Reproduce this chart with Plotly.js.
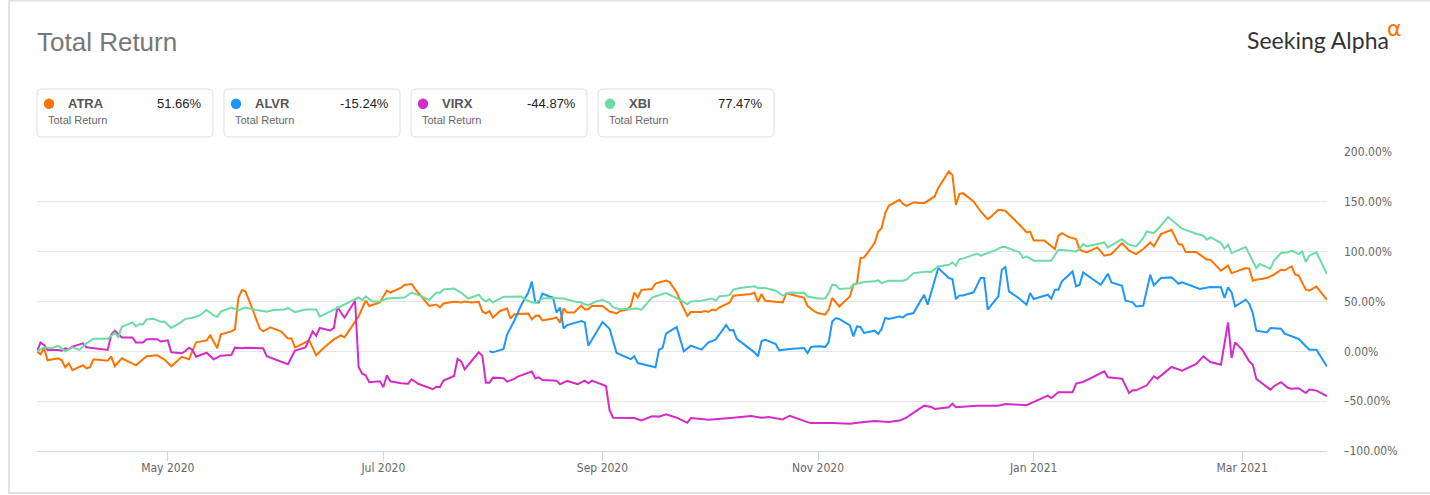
<!DOCTYPE html>
<html>
<head>
<meta charset="utf-8">
<script src="https://cdn.plot.ly/plotly-3.0.1.min.js"></script>
<style>
html,body{margin:0;padding:0;background:#fff;}
#chart{width:1430px;height:495px;}
</style>
</head>
<body>
<div id="chart"></div>
<script>
// ---------------- DATA ----------------
const startDate = '2020-03-25';
const endDate = '2021-03-25';
const tickers = ['ATRA', 'ALVR', 'VIRX', 'XBI'];
const totalReturns = [51.66, -15.24, -44.87, 77.47];
const subLabel = 'Total Return';
const chartTitle = 'Total Return';
const xTickVals = ['2020-05-01', '2020-07-01', '2020-09-01', '2020-11-01', '2021-01-01', '2021-03-01'];
const xTickText = ['May 2020', 'Jul 2020', 'Sep 2020', 'Nov 2020', 'Jan 2021', 'Mar 2021'];
const yTickVals = [-100, -50, 0, 50, 100, 150, 200];

// [days since startDate, total return %]
const atra = [[0,0],[1,-3],[2,3],[3,-9],[6,-7],[7,-9],[8,-16],[9,-12],[10,-19],[13,-14],[14,-17],[15,-16],[16,-8],[20,-9.5],[21,-5],[22,-15],[24,-7],[28,-14],[31,-5],[34,-4],[36,-8],[38,-15],[41,-5.5],[43,-8],[45,9],[48,11],[49,16],[51,3],[52,17],[55,20],[56,22],[57,54],[58,61.5],[59,60],[61,42],[63,23],[64,20],[66,24],[69,20],[71,13],[72,13],[73,4],[74,5.4],[77,11],[79,-4],[81,3],[84,12],[86,16],[87,14],[89,25],[91,35],[93,51],[94,45.5],[97,49],[99,61],[100,59],[103,64],[104,66.6],[106,67.6],[107,62.5],[109,54],[111,45.6],[113,47],[114,44],[115,48],[118,49.7],[120,49],[121,50],[123,49],[125,49.7],[126,40],[127,38],[128,40.5],[129,33.8],[131,40.5],[133,43],[134,32.8],[135,37],[136,37.5],[139,37.9],[140,32],[141,35.5],[142,36],[143,31],[146,33],[147,34],[148,28.7],[149,43],[150,39],[152,39],[154,46],[155,42],[156,42.5],[157,45.6],[160,45.6],[162,40],[164,38],[165,40.5],[167,42],[168,45.6],[169,59],[170,54],[171,61.5],[174,62.5],[175,68],[178,71],[179,69.5],[181,59],[182,50.7],[184,35.5],[185,39.5],[188,39.5],[189,40.5],[190,39.5],[191,42],[192,41],[193,44],[196,49],[197,55.8],[202,57.5],[203,59],[204,49.7],[205,57.5],[206,50.7],[211,49],[212,58],[217,54],[218,45.6],[220,40],[221,38.4],[223,36.8],[224,41.8],[225,53.5],[227,45],[230,55],[231,66.8],[232,68.5],[233,93.6],[234,94],[237,108.6],[238,120],[239,123.7],[240,138.7],[241,146],[244,152],[245,148],[246,146],[248,149.4],[251,148.7],[253,153.7],[254,155.4],[255,163.8],[258,180.5],[259,177],[260,147],[261,158],[262,158.7],[265,150.4],[267,140.4],[269,132.7],[270,135.3],[272,142],[274,141],[278,127],[280,119.3],[281,120],[282,111.3],[285,111.3],[288,102.6],[289,116],[290,118.6],[292,114.6],[294,112.6],[295,102],[297,99.3],[300,104.3],[302,96],[304,97.6],[307,108.6],[309,101],[311,97.6],[313,102.6],[315,109.3],[316,105.3],[318,117.6],[321,122],[323,107.6],[324,107],[325,99.6],[328,99.6],[331,92],[332,92],[334,85.2],[335,81],[337,86],[338,78.5],[342,83.6],[343,83],[344,70.8],[345,71.8],[348,73.5],[350,76.9],[352,81.9],[353,81.3],[355,85.2],[356,76.9],[357,76],[359,61.8],[360,61],[362,65],[365,51.66]];

const alvr = [[128,0],[129,-1],[132,2.4],[133,16.9],[134,23.7],[135,30.4],[137,46.3],[139,59],[140,70],[141,49],[142,49],[143,58],[145,55],[146,54],[147,38.9],[148,44],[149,23],[150,26.4],[154,30.4],[155,29],[156,5.7],[160,29.4],[162,22.6],[164,-1.7],[168,-7.8],[169,-5],[170,-11.8],[175,-15.9],[176,1.7],[177,3.4],[178,17.9],[181,24.3],[183,0],[185,5.7],[188,1.7],[190,9.1],[192,11.8],[195,26.4],[196,21],[197,21.5],[198,12.5],[201,4.4],[203,-1],[204,-5],[205,10.1],[206,11.8],[209,7.4],[210,1],[213,2.4],[217,3.4],[218,-1.7],[219,4.4],[221,5],[223,4.5],[224,9],[225,30],[226,33.4],[227,32.5],[230,26],[231,15],[232,25],[233,24.5],[234,18.4],[237,20.7],[238,17.4],[239,22.7],[240,33.4],[241,32.5],[244,35],[245,34],[246,36.8],[248,38.4],[251,56.8],[252,46.8],[255,83.6],[258,73.5],[259,72.5],[260,52.5],[261,56.1],[262,56],[265,59.2],[267,73.5],[268,73.5],[269,41.8],[272,55.1],[273,81.9],[274,84.6],[275,60.2],[278,52.8],[280,46.8],[281,58.5],[282,52.5],[286,56.8],[287,52.8],[288,61.8],[289,61.8],[290,70.2],[293,80.2],[294,65.2],[295,66.8],[296,79.2],[301,66.8],[303,77.9],[304,69.2],[307,65.8],[308,50.8],[310,49.1],[311,45.1],[313,45.8],[315,76.9],[316,66.2],[318,73.5],[321,74.2],[323,67.8],[324,69.2],[329,62.5],[332,64.5],[335,64.2],[336,53.5],[337,64.2],[338,59.2],[339,45.1],[342,51.8],[343,47.8],[344,38.4],[345,20.7],[348,19],[349,23.4],[352,22.7],[353,17.7],[357,12.4],[360,1.7],[362,1.7],[365,-15.24]];

const virx = [[0,0],[1,8.8],[2,6.5],[3,1.4],[6,1.4],[7,0.7],[8,3],[9,2],[10,4.8],[12,7],[13,8],[14,4],[16,3],[20,1.4],[21,16.7],[22,20.7],[24,14],[27,14],[28,8.8],[30,8.8],[31,12.2],[34,12.2],[35,9.9],[37,11],[38,-1],[41,-2],[42,0.3],[43,3.7],[44,1.4],[45,-5.4],[48,-1.4],[50,-8],[52,-4.4],[55,-3.7],[56,3.7],[58,3],[59,3.7],[64,3],[65,-4.8],[68,-8.8],[70,-11],[71,-12.9],[73,0.7],[75,3],[76,4],[78,20],[79,15.6],[80,23.5],[83,21],[84,23.5],[85,44.5],[87,33.7],[90,50.7],[91,-15.6],[92,-22.4],[93,-24],[94,-31],[97,-30],[98,-36],[99,-24],[100,-30],[103,-32],[105,-32.5],[106,-28],[108,-32.8],[112,-38],[113,-35.5],[114,-36],[115,-29.4],[118,-24.7],[119,-7.4],[120,-10],[121,-18],[125,-1],[126,-4.4],[127,-31.4],[128,-31.4],[129,-26.4],[132,-27],[133,-30.4],[135,-27.7],[136,-25.4],[140,-20.3],[141,-27],[142,-26],[143,-28.7],[147,-29.4],[148,-33],[150,-29.7],[153,-33],[155,-29.4],[156,-32],[157,-29.4],[161,-34.8],[162,-59],[163,-66.6],[169,-67],[171,-69.3],[174,-65.2],[176,-65.5],[178,-63.2],[181,-66.6],[184,-71.7],[185,-67],[190,-68.6],[197,-66.6],[202,-64.9],[205,-66.6],[207,-66],[211,-68.3],[213,-64.6],[218,-71],[219,-72],[225,-72],[230,-72.7],[234,-71],[237,-70],[241,-71],[244,-69.5],[246,-66.5],[248,-61.8],[251,-54.5],[253,-55.8],[254,-57.8],[258,-56.1],[259,-52.5],[260,-56.1],[266,-54.5],[272,-54.5],[274,-52.8],[280,-54],[284,-47.8],[286,-44.4],[287,-46.8],[289,-41.1],[293,-41.1],[294,-32.4],[296,-30.7],[302,-20],[303,-26],[307,-27.4],[309,-41.8],[310,-39.1],[311,-39.1],[314,-34.1],[316,-25],[317,-27.4],[321,-15.7],[324,-19.4],[328,-12.7],[330,-5],[332,-10.7],[335,-13.4],[337,29],[338,-6.7],[339,9],[341,1.7],[343,-10],[344,-13.4],[345,-27.7],[348,-35.8],[349,-38.4],[350,-35],[352,-31],[354,-36.8],[355,-37.5],[357,-37],[359,-41.8],[360,-38.4],[362,-39.4],[365,-44.87]];

const xbi = [[0,0],[2,4],[4,3],[6,5.4],[8,0],[10,4],[12,1.4],[14,8],[16,12.6],[20,12.6],[22,18.4],[23,14.3],[24,24.5],[27,29],[28,25],[29,27.5],[30,27],[31,32],[33,32.6],[35,29.6],[36,30],[38,23.5],[40,27.5],[42,32.6],[44,33.7],[46,36],[48,41.5],[50,36],[51,34.7],[52,39.8],[55,43.9],[57,41],[58,42.8],[59,43.9],[62,41.5],[65,39.8],[67,41.5],[70,42],[71,43.5],[73,39.4],[76,42],[79,42],[80,34.7],[81,36.5],[84,42],[88,49],[91,54],[92,51.3],[93,55],[95,50],[97,50],[99,53],[103,54],[104,54],[106,59],[108,56.4],[111,51.7],[113,59],[114,58.5],[115,62],[118,63],[120,59],[122,53],[125,56.8],[126,52.4],[127,50],[128,52.4],[129,49],[132,54.8],[134,55],[137,55],[138,52.4],[140,49],[141,49],[143,53],[146,53.4],[149,53],[152,50],[154,49],[155,47.3],[156,46.3],[158,49.7],[160,51.7],[162,48.3],[163,44],[165,42.3],[168,42.3],[170,43],[171,41.6],[174,54],[177,57.5],[178,58.5],[181,53.4],[183,49],[184,47.3],[185,50],[188,50.7],[191,53],[192,50.7],[193,55],[196,56.4],[197,62],[199,63.5],[203,65.2],[204,63.5],[206,63.5],[209,60.8],[211,55.8],[213,59],[216,58.5],[217,59],[218,55],[221,53],[223,53],[224,58.5],[225,66.8],[226,66.5],[227,62.5],[230,63.2],[231,66.8],[234,69.5],[237,70.2],[238,71.2],[239,68.5],[241,70.8],[245,70.8],[246,71.8],[248,78.5],[252,80.2],[253,79.5],[255,85.2],[258,86.9],[259,89.2],[260,85.9],[261,92.6],[262,93],[265,97],[266,98],[267,96],[269,98.6],[271,101.3],[273,104.6],[274,104.6],[278,99.3],[279,93.6],[280,95.2],[282,91],[287,91],[289,102],[291,101.5],[294,100.3],[295,103],[296,107.6],[297,105.3],[302,109.3],[303,104.3],[307,112.6],[309,107],[311,105.3],[313,113.6],[314,120.3],[316,118.5],[318,126],[320,134.7],[323,125.3],[324,123],[328,118],[330,116],[331,112],[332,114.6],[335,108.6],[336,103],[337,107],[338,98.6],[342,104.6],[345,83.6],[346,87.6],[349,82.9],[350,91.2],[352,98.6],[354,99.5],[355,101],[357,97.6],[358,100.3],[359,89.6],[360,96],[362,99.3],[365,77.47]];

// ---------------- STYLE ----------------
const seriesData = [atra, alvr, virx, xbi];
const seriesColors = ['#ff7300', '#1f96fa', '#d42bc8', '#6ddba5'];

const W = 1430, H = 495;
const M = {l: 37, r: 103, t: 152, b: 44};
const PW = W - M.l - M.r, PH = H - M.t - M.b;
const X = px => (px - M.l) / PW;          // page px -> paper x
const Y = py => (H - M.b - py) / PH;       // page py -> paper y

const t0 = Date.parse(startDate + 'T00:00:00Z');
const toDate = d => new Date(t0 + d * 86400000).toISOString().slice(0, 10);
const fmtPct = v => (v < 0 ? '\u2013' + Math.abs(v).toFixed(2) : v.toFixed(2)) + '%';

const traces = seriesData.map((s, i) => ({
  type: 'scatter',
  mode: 'lines',
  name: tickers[i],
  x: s.map(p => toDate(p[0])),
  y: s.map(p => p[1]),
  line: {color: seriesColors[i], width: 2},
  hoverinfo: 'skip'
}));

function roundRect(x0, y0, x1, y1, r) {
  const P = (x, y) => X(x) + ',' + Y(y);
  return 'M' + P(x0 + r, y0) + ' L' + P(x1 - r, y0) + ' Q' + P(x1, y0) + ' ' + P(x1, y0 + r) +
    ' L' + P(x1, y1 - r) + ' Q' + P(x1, y1) + ' ' + P(x1 - r, y1) +
    ' L' + P(x0 + r, y1) + ' Q' + P(x0, y1) + ' ' + P(x0, y1 - r) +
    ' L' + P(x0, y0 + r) + ' Q' + P(x0, y0) + ' ' + P(x0 + r, y0) + ' Z';
}

const shapes = [{
  type: 'rect', xref: 'paper', yref: 'paper',
  x0: X(9), x1: X(1445), y0: Y(493), y1: Y(0.5),
  line: {color: '#e2e2e2', width: 2}, fillcolor: 'rgba(0,0,0,0)', layer: 'below'
}];
const annotations = [];
const sans = 'Liberation Sans, Arial, sans-serif';

tickers.forEach((tk, i) => {
  const L = 37 + 187 * i;
  shapes.push({
    type: 'path', xref: 'paper', yref: 'paper',
    path: roundRect(L, 89, L + 176, 137, 5),
    line: {color: '#dddddd', width: 1}, fillcolor: '#ffffff', layer: 'below'
  });
  shapes.push({
    type: 'circle', xref: 'paper', yref: 'paper',
    x0: X(L + 6.8), x1: X(L + 17.2), y0: Y(109), y1: Y(98.6),
    line: {width: 0}, fillcolor: seriesColors[i]
  });
  annotations.push({
    xref: 'paper', yref: 'paper', x: X(L + 28.5), y: Y(103.6), xanchor: 'left', yanchor: 'middle',
    text: tk, showarrow: false, font: {family: sans, size: 13, color: '#555555', weight: 'bold'}
  });
  annotations.push({
    xref: 'paper', yref: 'paper', x: X(L + 167), y: Y(103.6), xanchor: 'right', yanchor: 'middle',
    text: totalReturns[i].toFixed(2) + '%', showarrow: false, font: {family: sans, size: 13, color: '#222222'}
  });
  annotations.push({
    xref: 'paper', yref: 'paper', x: X(L + 8.5), y: Y(120.5), xanchor: 'left', yanchor: 'middle',
    text: subLabel, showarrow: false, font: {family: sans, size: 11, color: '#666666'}
  });
});

annotations.push({
  xref: 'paper', yref: 'paper', x: X(1245), y: Y(40), xanchor: 'left', yanchor: 'middle',
  text: 'Seeking Alpha', showarrow: false, font: {family: 'Lato, Liberation Sans, sans-serif', size: 23, color: '#333333'}
});
annotations.push({
  xref: 'paper', yref: 'paper', x: X(1394), y: Y(28), xanchor: 'center', yanchor: 'middle',
  text: 'α', showarrow: false, font: {family: 'DejaVu Sans, sans-serif', size: 22, color: '#ff7200'}
});

const axisFont = {family: 'DejaVu Sans Condensed, DejaVu Sans, sans-serif', size: 12, color: '#666666'};

const layout = {
  width: W, height: H,
  margin: {l: M.l, r: M.r, t: M.t, b: M.b, pad: 0},
  paper_bgcolor: '#ffffff', plot_bgcolor: '#ffffff',
  showlegend: false,
  hovermode: false,
  title: {
    text: chartTitle, x: 0, xref: 'paper', xanchor: 'left',
    y: 1 - 41.5 / H, yref: 'container', yanchor: 'middle',
    font: {family: sans, size: 26, color: '#777777'}
  },
  xaxis: {
    type: 'date', range: [startDate, endDate],
    tickmode: 'array', tickvals: xTickVals, ticktext: xTickText,
    showgrid: false, zeroline: false,
    showline: true, linecolor: '#ccd6eb', linewidth: 1,
    ticks: 'outside', ticklen: 9, tickcolor: '#ccd6eb', tickwidth: 1,
    ticklabelstandoff: -3,
    tickfont: axisFont, fixedrange: true
  },
  yaxis: {
    range: [-100, 200], tickmode: 'array', tickvals: yTickVals,
    ticktext: yTickVals.map(fmtPct),
    side: 'right', showgrid: true, gridcolor: '#e6e6e6', gridwidth: 1,
    zeroline: false, showline: false, ticks: '',
    ticklabelstandoff: 16,
    tickfont: axisFont, fixedrange: true
  },
  shapes: shapes,
  annotations: annotations
};

Plotly.newPlot('chart', traces, layout, {displayModeBar: false, staticPlot: true});
</script>
</body>
</html>
